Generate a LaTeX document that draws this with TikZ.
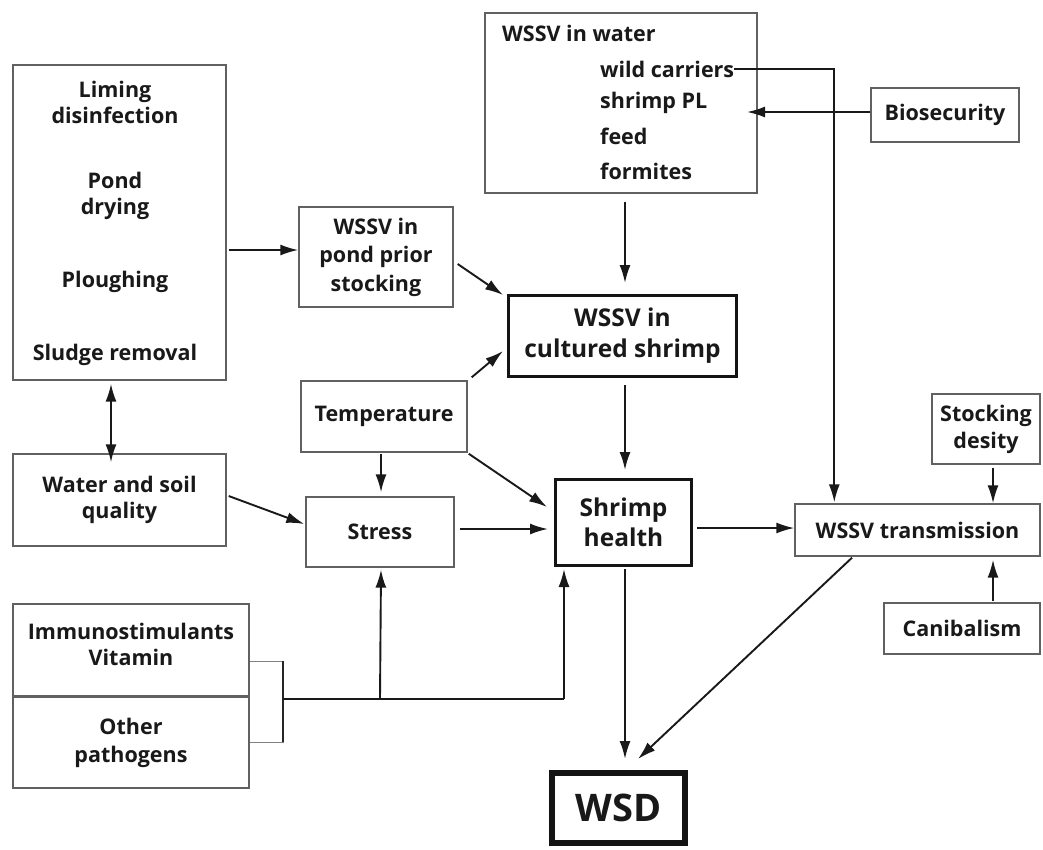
\documentclass[tikz,border=0pt]{standalone}
\usepackage{fontspec}
\setmainfont{Open Sans}
\usetikzlibrary{arrows.meta,calc}
\begin{document}
\begin{tikzpicture}[x=1pt,y=-1pt,
  box/.style={draw=black!62, line width=1.4pt, inner sep=0pt, rectangle},
  bbox/.style={draw=black!92, line width=3pt, inner sep=0pt, rectangle},
  txt/.style={font=\fontsize{21.5}{26}\selectfont\bfseries, inner sep=0pt, align=center, text=black!90},
  btxt/.style={font=\fontsize{24.5}{31}\selectfont\bfseries, inner sep=0pt, align=center, text=black!90},
  tip/.style={-{Latex[length=18pt,width=11pt]}},
  arr/.style={tip, line width=1.9pt, black!90},
  barr/.style={{Latex[length=18pt,width=11pt]}-{Latex[length=18pt,width=11pt]}, line width=1.9pt, black!90},
  conn/.style={line width=1.9pt, black!90},
  thinl/.style={line width=1pt, black!50}]
\useasboundingbox (0,0) rectangle (1043,849);
\fill[white] (0,0) rectangle (1043,849);

% left big box
\node[box, minimum width=213pt, minimum height=315pt] (leftbox) at (119.5,222.5) {};
\node[txt] (lim) at (115,102.5) {Liming\\disinfection};
\node[txt] (pdry) at (115,195.5) {Pond\\drying};
\node[txt] (plough) at (115,282) {Ploughing};
\node[txt] (sludge) at (115,355) {Sludge removal};

% pond prior stocking
\node[box, txt, font=\fontsize{21.5}{28.5}\selectfont\bfseries, minimum width=154pt, minimum height=100pt] (pond) at (376,257) {WSSV in\\pond prior\\stocking};

% WSSV in water
\node[box, minimum width=272pt, minimum height=180pt] (water) at (621,103) {};
\node[txt, anchor=west] (wtitle) at (502,33) {WSSV in water};
\node[txt, anchor=west] (wild) at (600,69) {wild carriers};
\node[txt, anchor=west] (spl) at (600,103) {shrimp PL};
\node[txt, anchor=west] (feed) at (600,136) {feed};
\node[txt, anchor=west] (form) at (600,171) {formites};

% Biosecurity
\node[box, txt, minimum width=148pt, minimum height=54pt] (bio) at (945,115) {Biosecurity};

% WSSV in cultured shrimp
\node[bbox, btxt, minimum width=228pt, minimum height=81pt] (cult) at (622.5,336) {WSSV in\\cultured shrimp};

% Temperature, Stress
\node[box, txt, minimum width=166pt, minimum height=71pt] (temp) at (384,416.5) {Temperature};
\node[box, txt, minimum width=148pt, minimum height=70pt] (stress) at (380,532) {Stress};

% Shrimp health
\node[bbox, btxt, font=\fontsize{24.5}{30}\selectfont\bfseries, minimum width=136pt, minimum height=86pt] (health) at (623.5,522.5) {Shrimp\\health};

% Water and soil quality
\node[box, txt, minimum width=213pt, minimum height=92pt] (wsq) at (119.5,500) {Water and soil\\quality};

% right side
\node[box, txt, font=\fontsize{21.5}{27}\selectfont\bfseries, minimum width=108pt, minimum height=70pt] (stock) at (986,429) {Stocking\\desity};
\node[box, txt, minimum width=245pt, minimum height=52pt] (trans) at (917.5,530) {WSSV transmission};
\node[box, txt, minimum width=156pt, minimum height=51pt] (cani) at (962,628.5) {Canibalism};

% bottom left
\node[box, minimum width=236pt, minimum height=92pt] (immuno) at (131,650) {};
\node[txt] (immunot) at (131,644) {Immunostimulants\\Vitamin};
\node[box, minimum width=236pt, minimum height=91pt] (other) at (131,742.5) {};
\node[txt, font=\fontsize{21.5}{28}\selectfont\bfseries] (othert) at (131,743) {Other\\pathogens};

% WSD
\node[draw=black!92, line width=6pt, inner sep=0pt, minimum width=133pt, minimum height=70pt, font=\fontsize{38}{40}\selectfont\bfseries, text=black!90] (wsd) at (618.5,808) {WSD};

% connectors
\draw[arr] ($(leftbox.east)+(2,27.5)$) -- ($(pond.west)+(0,-7)$);
\draw[arr] ($(pond.east)+(4,7)$) -- ($(cult.north west)+(-4,1)$);
\draw[arr] ($(water.south)+(4,8)$) -- ($(cult.north)+(2.5,-11)$);
\coordinate (bioend) at (747,112);
\draw[arr] ($(bio.west)+(0,-3)$) -- (bioend);
\draw[arr] (wild.east) -| ($(trans.north west)+(40,-1)$);
\draw[arr] ($(temp.north east)+(4,-3)$) -- ($(cult.west)+(-4,15)$);
\draw[arr] ($(temp.south)+(-3,1)$) -- ($(stress.north)+(1,-4)$);
\draw[arr] ($(temp.south east)+(1,1)$) -- ($(health.west)+(-7,-15.5)$);
\draw[arr] ($(stress.east)+(5,-3)$) -- ($(health.west)+(-6,6.5)$);
\draw[arr] ($(cult.south)+(2.5,7)$) -- ($(health.north)+(1.5,-8)$);
\draw[arr] ($(wsq.east)+(2,-4)$) -- ($(stress.west)+(-1,-8)$);
\draw[barr] ($(leftbox.south)+(-8.5,3)$) -- ($(wsq.north)+(-8.5,9)$);
\draw[arr] ($(health.east)+(4,5.5)$) -- ($(trans.west)+(0,-2)$);
\draw[arr] ($(stock.south)+(7,3)$) -- ($(trans.north)+(75.5,0)$);
\draw[arr] ($(cani.north)+(31,-1)$) -- ($(trans.south)+(75.5,3)$);
\draw[arr] ($(trans.south)+(-65.5,1)$) -- ($(wsd.north)+(19.5,-11)$);
\draw[arr] ($(health.south)+(1.5,2)$) -- ($(wsd.north)+(6.5,-11)$);

% bracket
\coordinate (bk) at (283,699);
\coordinate (hb) at (564,699);
\draw[thinl] ($(immuno.east)+(0,11)$) -- ($(immuno.east)+(34,11)$);
\draw[thinl] ($(other.east)+(0,-0.5)$) -- ($(other.east)+(34,-0.5)$);
\draw[line width=2.2pt, black!85] ($(bk)+(0,-38)$) -- ($(bk)+(0,43)$);
\draw[conn] (bk) -- (hb);
\draw[arr] (stress.south |- bk) -- ($(stress.south)+(1,2)$);
\draw[arr] (hb) -- ($(health.south -| hb)+(0,2)$);
\end{tikzpicture}
\end{document}
